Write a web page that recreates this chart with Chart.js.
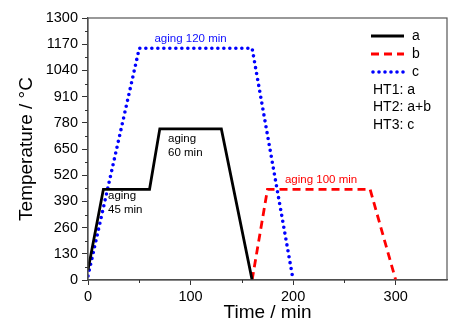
<!DOCTYPE html>
<html>
<head>
<meta charset="utf-8">
<script src="https://cdn.jsdelivr.net/npm/chart.js@4/dist/chart.umd.min.js"></script>
<style>
  html, body { margin: 0; padding: 0; background: #fff; }
  #wrap { width: 453px; height: 334px; }
</style>
</head>
<body>
<div id="wrap"><canvas id="chart" width="453" height="334"></canvas></div>
<script>
// heat treatment profiles (time in min, temperature in °C)
const timeA = [0, 15, 60, 70, 130, 160];
const tempA = [50, 450, 450, 750, 750, 0];
const timeB = [160, 175, 275, 300];
const tempB = [0, 450, 450, 0];
const timeC = [0, 50, 160, 200];
const tempC = [20, 1150, 1150, 0];

const seriesNames = ["a", "b", "c"];
const legendNotes = ["HT1: a", "HT2: a+b", "HT3: c"];

const xTicks = [0, 100, 200, 300];
const yTicks = [0, 130, 260, 390, 520, 650, 780, 910, 1040, 1170, 1300];

// notes on the plot: [text lines, x, y, colour, align]
const notes = [
  [["aging 120 min"], 100, 1195, "#1010ff", "center"],
  [["aging", "60 min"], 78, 700, "#000", "left"],
  [["aging", "45 min"], 19.5, 417, "#000", "left"],
  [["aging 100 min"], 192, 496, "#ff0000", "left"]
];

function pts(xs, ys) {
  return xs.map((x, i) => ({ x: x, y: ys[i] }));
}

const font = "'Liberation Sans', Arial, sans-serif";

const extras = {
  id: "extras",
  afterDraw(chart) {
    const ctx = chart.ctx;
    const area = chart.chartArea;
    const xs = chart.scales.x;
    const ys = chart.scales.y;
    ctx.save();

    // frame top/right
    ctx.strokeStyle = "#555";
    ctx.lineWidth = 1.2;
    ctx.strokeRect(area.left, area.top, area.right - area.left, area.bottom - area.top);

    // minor ticks
    ctx.strokeStyle = "#333";
    ctx.lineWidth = 1;
    ctx.beginPath();
    for (let v = 65; v < 1300; v += 130) {
      const y = Math.round(ys.getPixelForValue(v)) + 0.5;
      ctx.moveTo(area.left - 3, y);
      ctx.lineTo(area.left, y);
    }
    for (let v = 50; v < 350; v += 100) {
      const x = Math.round(xs.getPixelForValue(v)) + 0.5;
      ctx.moveTo(x, area.bottom);
      ctx.lineTo(x, area.bottom + 3);
    }
    ctx.stroke();

    // notes
    ctx.font = "11.5px " + font;
    ctx.textBaseline = "middle";
    notes.forEach(n => {
      ctx.fillStyle = n[3];
      ctx.textAlign = n[4];
      const x = xs.getPixelForValue(n[1]);
      const y = ys.getPixelForValue(n[2]);
      n[0].forEach((line, i) => ctx.fillText(line, x, y + i * 14));
    });

    // legend
    const ds = chart.data.datasets;
    ctx.font = "14px " + font;
    ctx.textAlign = "left";
    seriesNames.forEach((name, i) => {
      const y = 36 + i * 18;
      const d = ds[i];
      ctx.strokeStyle = d.borderColor;
      ctx.lineWidth = d.borderWidth;
      ctx.setLineDash(d.borderDash || []);
      ctx.lineCap = d.borderCapStyle || "butt";
      ctx.beginPath();
      ctx.moveTo(i === 2 ? 373 : 371, y);
      ctx.lineTo(404, y);
      ctx.stroke();
      ctx.setLineDash([]);
      ctx.fillStyle = "#000";
      ctx.fillText(name, 412, y);
    });
    legendNotes.forEach((t, i) => {
      ctx.fillText(t, 373, 90 + i * 17.5);
    });
    ctx.restore();
  }
};

new Chart(document.getElementById("chart"), {
  type: "line",
  data: {
    datasets: [
      {
        label: seriesNames[0],
        data: pts(timeA, tempA),
        borderColor: "#000",
        borderWidth: 2.8,
        pointRadius: 0
      },
      {
        label: seriesNames[1],
        data: pts(timeB, tempB),
        borderColor: "#ff0000",
        borderWidth: 2.8,
        borderDash: [8, 5],
        pointRadius: 0
      },
      {
        label: seriesNames[2],
        data: pts(timeC, tempC),
        borderColor: "#0000ff",
        borderWidth: 3.6,
        borderDash: [0, 6],
        borderCapStyle: "round",
        pointRadius: 0
      }
    ]
  },
  options: {
    responsive: false,
    animation: false,
    layout: { padding: { left: 0, right: 6, top: 18, bottom: 0 } },
    plugins: {
      legend: { display: false },
      tooltip: { enabled: false }
    },
    scales: {
      x: {
        type: "linear",
        min: 0,
        max: 350,
        afterFit: s => { s.height = 54; },
        afterBuildTicks: s => { s.ticks = xTicks.map(v => ({ value: v })); },
        grid: { drawOnChartArea: false, tickLength: 5, tickColor: "#333" },
        border: { color: "#444", width: 1.2 },
        ticks: {
          color: "#000",
          font: { family: font, size: 14.5 },
          padding: 3,
          maxRotation: 0,
          callback: v => String(v)
        },
        title: {
          display: true,
          text: "Time / min",
          color: "#000",
          font: { family: font, size: 19 },
          padding: { top: 0, bottom: 10 }
        }
      },
      y: {
        type: "linear",
        min: 0,
        max: 1300,
        afterFit: s => { s.width = 88; },
        afterBuildTicks: s => { s.ticks = yTicks.map(v => ({ value: v })); },
        grid: { drawOnChartArea: false, tickLength: 6, tickColor: "#333" },
        border: { color: "#444", width: 1.2 },
        ticks: {
          color: "#000",
          font: { family: font, size: 14.5 },
          padding: 4,
          callback: v => String(v)
        },
        title: {
          display: true,
          text: "Temperature / °C",
          color: "#000",
          font: { family: font, size: 19 },
          padding: { top: 15, bottom: 0 }
        }
      }
    }
  },
  plugins: [extras]
});
</script>
</body>
</html>
